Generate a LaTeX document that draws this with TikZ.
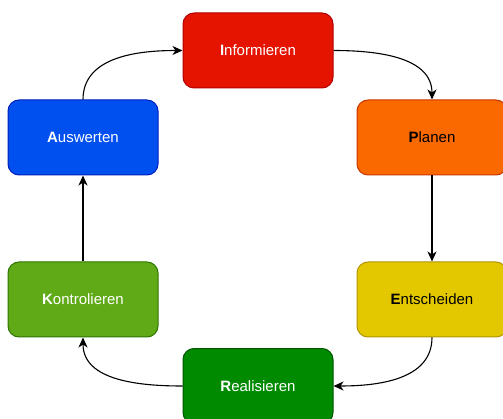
\documentclass[tikz,border=0pt]{standalone}
\usepackage{fontspec}
\setmainfont{Liberation Sans}
\usetikzlibrary{arrows.meta}

\definecolor{redfill}{HTML}{E51400}\definecolor{redline}{HTML}{B20000}
\definecolor{orangefill}{HTML}{FA6800}\definecolor{orangeline}{HTML}{C73500}
\definecolor{yellowfill}{HTML}{E3C800}\definecolor{yellowline}{HTML}{B09500}
\definecolor{greenfill}{HTML}{008A00}\definecolor{greenline}{HTML}{005700}
\definecolor{limefill}{HTML}{60A917}\definecolor{limeline}{HTML}{2D7600}
\definecolor{bluefill}{HTML}{0050EF}\definecolor{blueline}{HTML}{001DBC}

\tikzset{
  phase/.style={draw, line width=1pt, rounded corners=11pt,
    minimum width=150pt, minimum height=75pt, inner sep=0pt,
    font=\fontsize{15}{18}\selectfont},
  flow/.style={line width=1.1pt, draw=black,
    -{Stealth[length=10pt,width=9pt,inset=3pt]}}
}

\begin{document}
\begin{tikzpicture}[x=1pt,y=-1pt]
  \useasboundingbox (0,0) rectangle (503,419);
  \clip (0,0) rectangle (503,419);

  \node[phase, fill=redfill, draw=redline, text=white]     (inf) at (258,50.5)  {\textbf{I}nformieren};
  \node[phase, fill=orangefill, draw=orangeline, text=black] (pla) at (432,137.5) {\textbf{P}lanen};
  \node[phase, fill=yellowfill, draw=yellowline, text=black] (ent) at (432,299.5) {\textbf{E}ntscheiden};
  \node[phase, fill=greenfill, draw=greenline, text=white]  (rea) at (258,386)   {\textbf{R}ealisieren};
  \node[phase, fill=limefill, draw=limeline, text=white]    (kon) at (83,299.5)  {\textbf{K}ontrolieren};
  \node[phase, fill=bluefill, draw=blueline, text=white]    (aus) at (83,137.5)  {\textbf{A}uswerten};

  \draw[flow] (inf.east) to[out=0,in=90] (pla.north);
  \draw[flow] (pla.south) -- (ent.north);
  \draw[flow] (ent.south) to[out=-90,in=0] (rea.east);
  \draw[flow] (rea.west) to[out=180,in=-90] (kon.south);
  \draw[flow] (kon.north) -- (aus.south);
  \draw[flow] (aus.north) to[out=90,in=180] (inf.west);
\end{tikzpicture}
\end{document}
